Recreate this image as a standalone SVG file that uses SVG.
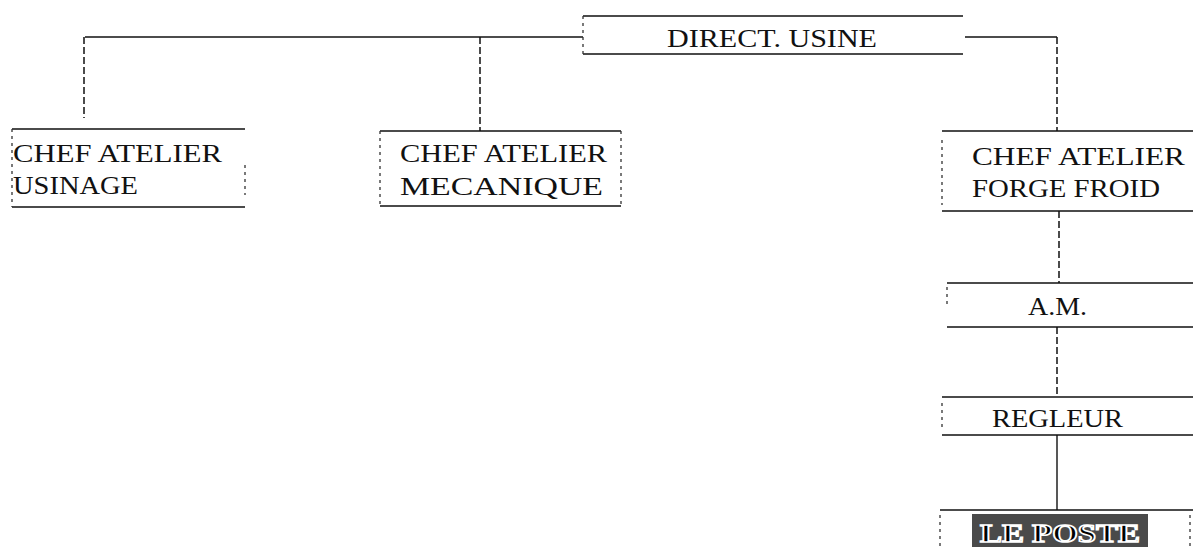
<svg xmlns="http://www.w3.org/2000/svg" width="1195" height="547" viewBox="0 0 1195 547">
<style>
.edge{stroke:#111;stroke-width:1.6;fill:none}
.side{stroke:#333;stroke-width:1.3;stroke-dasharray:3 4;fill:none}
.conn{stroke:#111;stroke-width:1.4;fill:none}
.dash{stroke:#111;stroke-width:1.5;stroke-dasharray:7 3;fill:none}
text{font-family:"Liberation Serif","Times New Roman",serif;font-size:26px;fill:#111}
</style>
<rect width="1195" height="547" fill="#fff"/>
<g id="connectors">
<path class="conn" d="M85 37 H583"/>
<path class="dash" d="M84 37 V118"/>
<path class="dash" d="M480 37 V131"/>
<path class="conn" d="M965 37 H1057"/>
<path class="dash" d="M1057 37 V131"/>
<path class="dash" d="M1059 211 V283"/>
<path class="dash" d="M1057 327 V397"/>
<path class="conn" d="M1057 435 V510"/>
</g>
<g id="direct-usine">
<path class="edge" d="M583 16 H963 M583 54 H963"/>
<path class="side" d="M583 16 V54"/>
<text x="667" y="47" textLength="210" lengthAdjust="spacingAndGlyphs">DIRECT. USINE</text>
</g>
<g id="chef-usinage">
<path class="edge" d="M12 129 H245 M12 207 H245"/>
<path class="side" d="M12 129 V207 M245 165 V195"/>
<text x="13" y="162" textLength="209" lengthAdjust="spacingAndGlyphs">CHEF ATELIER</text>
<text x="13" y="194" textLength="125" lengthAdjust="spacingAndGlyphs">USINAGE</text>
</g>
<g id="chef-mecanique">
<path class="edge" d="M380 131 H621 M380 206 H621"/>
<path class="side" d="M380 131 V206 M621 131 V206"/>
<text x="400" y="162" textLength="207" lengthAdjust="spacingAndGlyphs">CHEF ATELIER</text>
<text x="400" y="195" textLength="203" lengthAdjust="spacingAndGlyphs">MECANIQUE</text>
</g>
<g id="chef-forge">
<path class="edge" d="M942 131 H1193 M942 211 H1193"/>
<path class="side" d="M942 140 V205"/>
<text x="972" y="165" textLength="213" lengthAdjust="spacingAndGlyphs">CHEF ATELIER</text>
<text x="972" y="197" textLength="188" lengthAdjust="spacingAndGlyphs">FORGE FROID</text>
</g>
<g id="am">
<path class="edge" d="M947 283 H1193 M947 327 H1193"/>
<path class="side" d="M947 287 V308"/>
<text x="1028" y="315" textLength="59" lengthAdjust="spacingAndGlyphs">A.M.</text>
</g>
<g id="regleur">
<path class="edge" d="M942 397 H1193 M942 435 H1193"/>
<path class="side" d="M942 403 V428"/>
<text x="992" y="427" textLength="131" lengthAdjust="spacingAndGlyphs">REGLEUR</text>
</g>
<g id="le-poste">
<path class="edge" d="M940 510 H1193"/>
<path class="side" d="M940 515 V547 M1190 515 V547"/>
<rect x="972" y="514" width="176" height="33" fill="#4a4a4a"/>
<text x="980" y="542" textLength="160" lengthAdjust="spacingAndGlyphs" style="fill:#000;stroke:#fff;stroke-width:1.5;font-weight:bold">LE POSTE</text>
</g>
</svg>
